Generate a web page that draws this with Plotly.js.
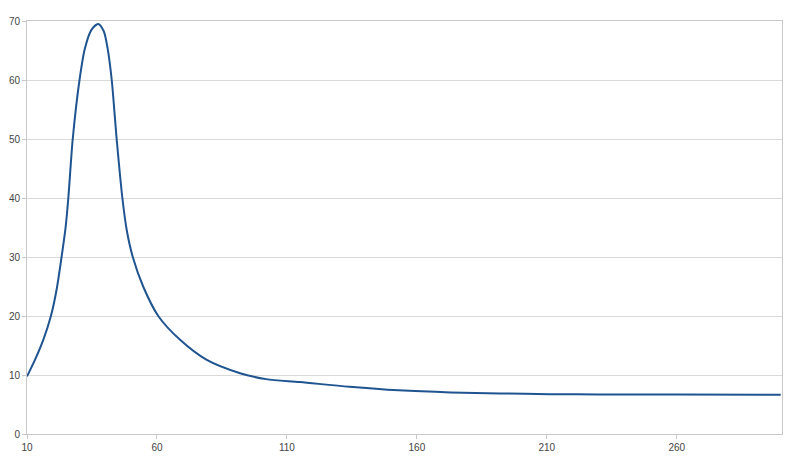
<!DOCTYPE html>
<html>
<head>
<meta charset="utf-8">
<script src="https://cdn.plot.ly/plotly-3.0.1.min.js"></script>
<style>html,body{margin:0;padding:0;background:#fff;}#chart{width:800px;height:460px;}</style>
</head>
<body>
<div id="chart"></div>
<script>
var xValues = [10, 13.1, 16.3, 19.2, 21.4, 23.3, 24.9, 25.9, 27.6, 30.2, 32.3, 34.8, 37.4, 39.5, 41.0, 42.6, 44.5, 46.7, 48.4, 50.7, 54.7, 60.5, 68.8, 79, 92, 102, 115, 134, 153, 173, 192, 211, 230, 260, 300];
var yValues = [9.76, 12.6, 16.0, 20.0, 24.5, 30.0, 35.2, 40.0, 50.0, 60.0, 65.4, 68.5, 69.5, 68.3, 65.4, 60.0, 50.0, 40.0, 34.5, 30.0, 25.0, 20.0, 16.0, 12.6, 10.3, 9.3, 8.8, 8.0, 7.4, 7.05, 6.88, 6.75, 6.7, 6.68, 6.66];
var xTickStart = 10;
var xTickStep = 50;
var yTickStep = 10;

var trace = {
  x: xValues,
  y: yValues,
  type: 'scatter',
  mode: 'lines',
  line: {color: '#1f5491', width: 2, shape: 'spline', smoothing: 0.8},
  hoverinfo: 'x+y'
};

var layout = {
  width: 800,
  height: 460,
  margin: {l: 27, r: 18, t: 21, b: 26, pad: 0},
  paper_bgcolor: '#ffffff',
  plot_bgcolor: '#ffffff',
  showlegend: false,
  font: {family: 'Liberation Sans, Arial, sans-serif', size: 10, color: '#444'},
  xaxis: {
    range: [10, 300.5],
    tick0: xTickStart,
    dtick: xTickStep,
    showgrid: false,
    zeroline: false,
    showline: true,
    linecolor: '#c8c8c8',
    linewidth: 1,
    mirror: true,
    ticks: 'outside',
    ticklen: 4,
    tickcolor: '#c8c8c8',
    tickfont: {size: 10, color: '#444'}
  },
  yaxis: {
    range: [0, 70],
    dtick: yTickStep,
    showgrid: true,
    gridcolor: '#d9d9d9',
    gridwidth: 1,
    zeroline: false,
    showline: true,
    linecolor: '#c8c8c8',
    linewidth: 1,
    mirror: true,
    ticks: 'outside',
    ticklen: 4,
    tickcolor: '#c8c8c8',
    tickfont: {size: 10, color: '#444'}
  }
};

Plotly.newPlot('chart', [trace], layout, {displayModeBar: false, staticPlot: true});
</script>
</body>
</html>
